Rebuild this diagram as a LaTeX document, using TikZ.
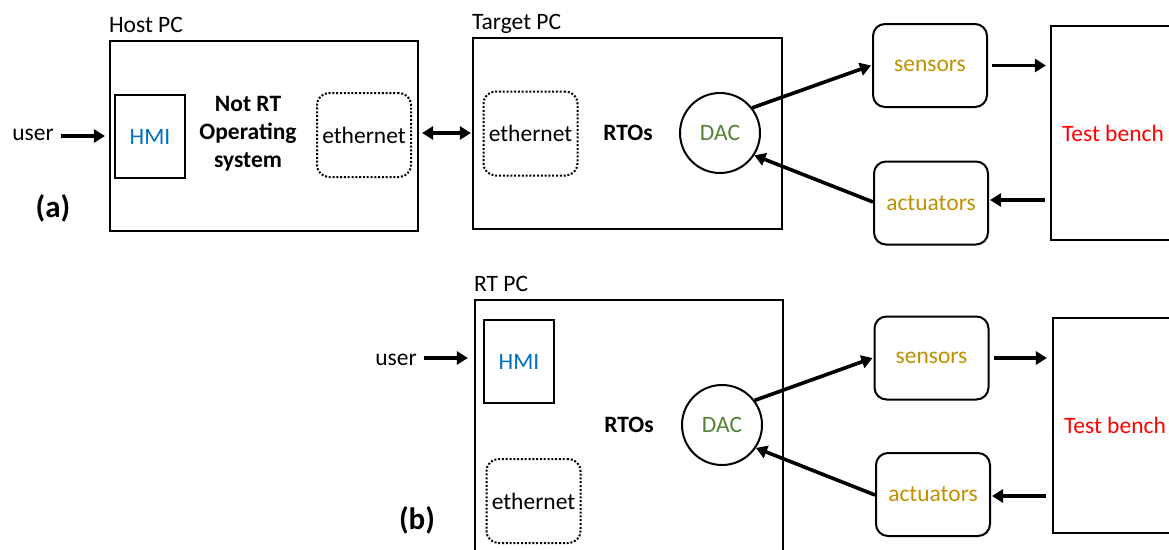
\documentclass[tikz,border=0pt]{standalone}
\usepackage{fontspec}
\setmainfont{Carlito}
\usetikzlibrary{arrows.meta}
\definecolor{hmiblue}{RGB}{0,112,192}
\definecolor{dacgreen}{RGB}{84,130,53}
\definecolor{iogold}{RGB}{191,144,0}
\definecolor{benchred}{RGB}{255,0,0}

\begin{document}
\begin{tikzpicture}[x=1pt,y=-1pt,
  every node/.style={font=\fontsize{23.5}{28}\selectfont, inner sep=0pt, align=center},
  pcbox/.style={draw, line width=2.2pt},
  hmibox/.style={draw, line width=2.2pt, minimum width=70pt, minimum height=83pt, text=hmiblue},
  ethbox/.style={draw, line width=2pt, dash pattern=on 2pt off 1.8pt, rounded corners=12pt,
                 minimum width=94pt, minimum height=84pt},
  dacnode/.style={draw, circle, line width=2pt, minimum size=80pt, text=dacgreen},
  iobox/.style={draw, line width=2pt, rounded corners=12pt, minimum width=114pt, minimum height=83pt, text=iogold},
  benchbox/.style={draw, line width=2.2pt, text=benchred},
  boxtitle/.style={anchor=base west, yshift=7.5pt},
  osname/.style={font=\fontsize{23.5}{28}\selectfont\bfseries},
  panel/.style={font=\fontsize{31}{34}\selectfont\bfseries},
  conn/.style={line width=3.6pt, -{Triangle[length=11pt,width=13pt]}},
  dconn/.style={line width=3.6pt, {Triangle[length=11pt,width=13pt]}-{Triangle[length=11pt,width=13pt]}}
]
\useasboundingbox (0,0) rectangle (1169,549);
\clip (0,0) rectangle (1169,549);

% ---------------- (a) host PC + target PC ----------------
\node[pcbox, minimum width=308pt, minimum height=190pt] (hostA) at (264,136) {};
\node[boxtitle] (hostAt) at (hostA.north west) {Host PC};
\node[hmibox] (hmiA) at (150,136.5) {HMI};
\node[osname] (osA) at (248,134) {Not RT\\Operating\\system};
\node[ethbox] (ethA) at (364,135) {ethernet};
\node (userA) at (33,134.5) {user};
\node[panel] (labA) at (53,208) {(a)};

\node[pcbox, minimum width=309pt, minimum height=191pt] (targetA) at (627.5,133.5) {};
\node[boxtitle] (targetAt) at (targetA.north west) {Target PC};
\node[ethbox] (ethTA) at (530.5,133.5) {ethernet};
\node[osname] (rtosA) at (628,133) {RTOs};
\node[dacnode] (dacA) at (720,133) {DAC};

\node[iobox] (sensA) at (930,65.5) {sensors};
\node[iobox] (actA) at (931,203) {actuators};
\node[benchbox, minimum width=124pt, minimum height=214pt] (benchA) at (1113,133) {Test bench};

\draw[conn] ([xshift=7pt,yshift=-1.5pt]userA.east) -- ([xshift=-4pt,yshift=-1.5pt]hostA.west |- userA);
\draw[dconn] ([xshift=3pt]hostA.east |- dacA) -- ([xshift=-1pt]targetA.west |- dacA);
\draw[conn] (dacA.38) -- ([xshift=-1pt]sensA.west);
\draw[conn] ([yshift=1pt]actA.west) -- (dacA.-33);
\draw[conn] ([xshift=4pt]sensA.east) -- ([xshift=-4pt]benchA.west |- sensA);
\draw[conn] ([xshift=-5pt,yshift=3pt]benchA.west |- actA) -- ([xshift=1pt,yshift=3pt]actA.east);

% ---------------- (b) single RT PC ----------------
\node[pcbox, minimum width=308pt, minimum height=260pt] (rtB) at (629,430) {};
\node[boxtitle] (rtBt) at (rtB.north west) {RT PC};
\node[hmibox] (hmiB) at (519,361.5) {HMI};
\node[ethbox] (ethB) at (533.5,501) {ethernet};
\node[osname] (rtosB) at (629,425) {RTOs};
\node[dacnode] (dacB) at (722,425) {DAC};
\node (userB) at (396,359.5) {user};
\node[panel] (labB) at (417,520) {(b)};

\node[iobox] (sensB) at (931.5,358) {sensors};
\node[iobox] (actB) at (933,494.5) {actuators};
\node[benchbox, minimum width=124pt, minimum height=215pt] (benchB) at (1115,425.5) {Test bench};

\draw[conn] ([xshift=7pt,yshift=1.5pt]userB.east) -- ([xshift=-6pt,yshift=1.5pt]rtB.west |- userB);
\draw[conn] (dacB.37) -- ([xshift=-1pt]sensB.west);
\draw[conn] ([yshift=-0.5pt]actB.west) -- (dacB.-34);
\draw[conn] ([xshift=4pt]sensB.east) -- ([xshift=-5pt]benchB.west |- sensB);
\draw[conn] ([xshift=-6pt,yshift=-1.5pt]benchB.west |- actB) -- ([xshift=1pt,yshift=-1.5pt]actB.east);
\end{tikzpicture}
\end{document}
